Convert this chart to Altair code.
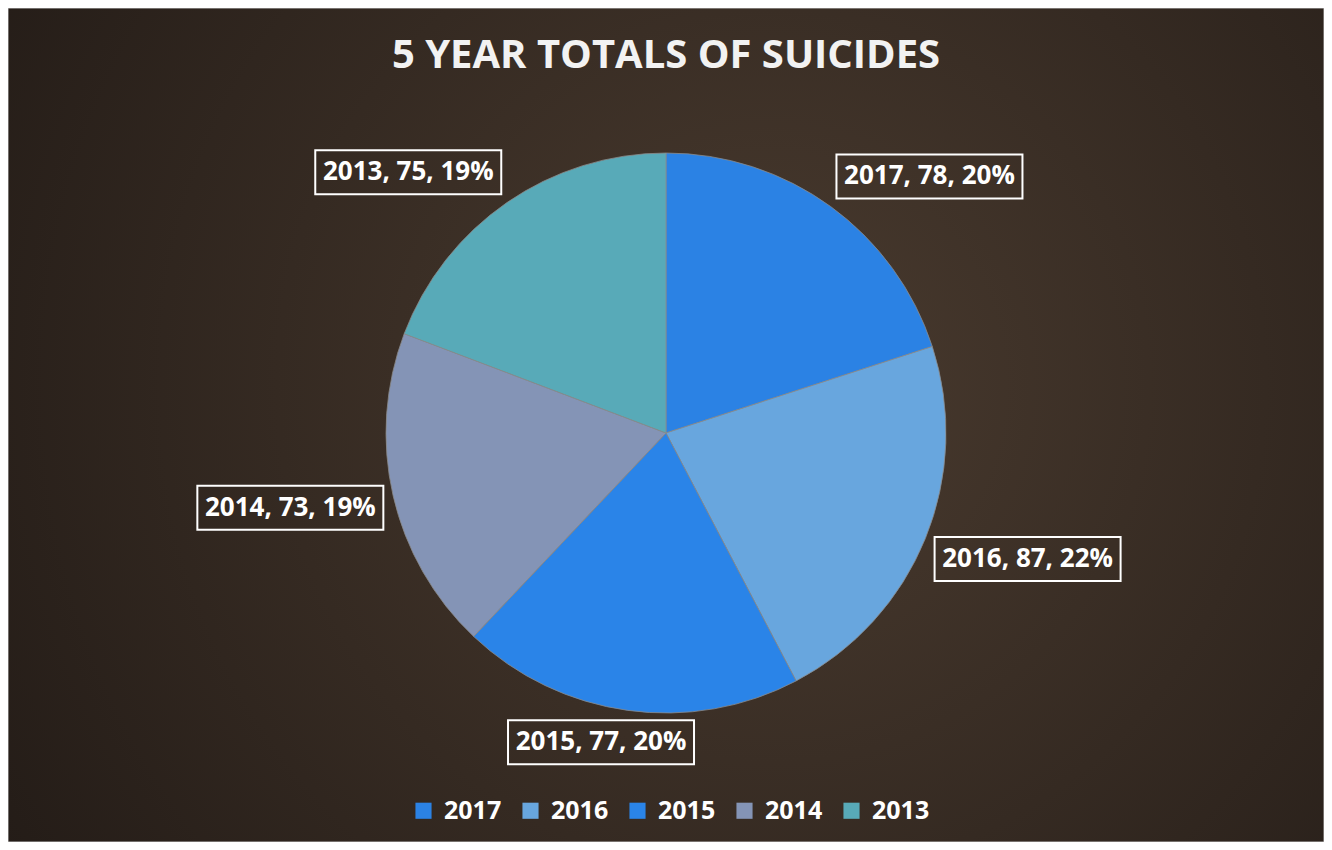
import altair as alt
import pandas as pd

years = ["2017", "2016", "2015", "2014", "2013"]
totals = [78, 87, 77, 73, 75]
colors = ["#2b82e4", "#68a6de", "#2a84e8", "#8494b6", "#58aab8"]
title_text = ["5 YEAR TOTALS OF SUICIDES"]

W, H = 1316, 834
CX, CY, R = 658, 425, 280
RL = 290
BW, BH = 186, 44
FONT = "Open Sans"

df = pd.DataFrame({"year": years, "total": totals, "idx": list(range(len(years)))})

bg = alt.Chart(pd.DataFrame({"a": [0]})).mark_rect(
    fill=alt.RadialGradient(
        gradient="radial",
        stops=[
            alt.GradientStop(offset=0, color="#4a3b2f"),
            alt.GradientStop(offset=1, color="#201915"),
        ],
        x1=0.58, y1=0.47, x2=0.58, y2=0.47, r1=0, r2=0.75,
    ),
    stroke="#bdbdbd", strokeWidth=1,
).encode(x=alt.value(0), x2=alt.value(W), y=alt.value(0), y2=alt.value(H))

title = alt.Chart(pd.DataFrame({"t": title_text})).mark_text(
    font=FONT, fontSize=40, fontWeight="bold", color="#f2f2f2", align="center", baseline="middle"
).encode(text="t:N", x=alt.value(CX), y=alt.value(48))

pie = alt.Chart(df).mark_arc(outerRadius=R, stroke="#8a8a8a", strokeWidth=0.8).encode(
    theta=alt.Theta("total:Q", stack=True),
    order=alt.Order("idx:Q"),
    color=alt.Color(
        "year:N",
        scale=alt.Scale(domain=years, range=colors),
        sort=years,
        legend=alt.Legend(
            orient="none", legendX=403, legendY=790, direction="horizontal", title=None,
            symbolType="square", symbolSize=260, symbolStrokeWidth=0, symbolOpacity=1,
            labelFont=FONT, labelFontSize=25, labelFontWeight="bold", labelColor="#ffffff",
            labelOffset=8, columnPadding=16,
        ),
    ),
    x=alt.value(CX),
    y=alt.value(CY),
)

lab = alt.Chart(df).transform_joinaggregate(
    sum_total="sum(total)"
).transform_window(
    cum="sum(total)", sort=[alt.SortField("idx")], frame=[None, 0]
).transform_calculate(
    mid="2*PI*(datum.cum - datum.total/2)/datum.sum_total"
).transform_calculate(
    lx=f"{CX} + {RL}*sin(datum.mid) + {BW/2}*clamp(2*sin(datum.mid), -1, 1)",
    ly=f"{CY} - {RL}*cos(datum.mid) - {BH/2}*clamp(2*cos(datum.mid), -1, 1)",
    label="datum.year + ', ' + datum.total + ', ' + format(datum.total/datum.sum_total, '.0%')",
).transform_calculate(
    bx1=f"datum.lx - {BW/2}", bx2=f"datum.lx + {BW/2}",
    by1=f"datum.ly - {BH/2}", by2=f"datum.ly + {BH/2}",
)

boxes = lab.mark_rect(fill="transparent", stroke="#ffffff", strokeWidth=2).encode(
    x=alt.X("bx1:Q", scale=None, axis=None),
    x2="bx2:Q",
    y=alt.Y("by1:Q", scale=None, axis=None),
    y2="by2:Q",
)

texts = lab.mark_text(
    font=FONT, fontSize=26, fontWeight="bold", color="#ffffff", align="center", baseline="middle"
).encode(
    x=alt.X("lx:Q", scale=None, axis=None),
    y=alt.Y("ly:Q", scale=None, axis=None),
    text="label:N",
)

chart = alt.layer(bg, title, pie, boxes, texts).properties(
    width=W, height=H, padding=0, autosize=alt.AutoSizeParams(type="none"),
    background="#2a211b",
).configure_view(stroke=None)

chart.save("out.html", embed_options={"renderer": "svg", "actions": False})
